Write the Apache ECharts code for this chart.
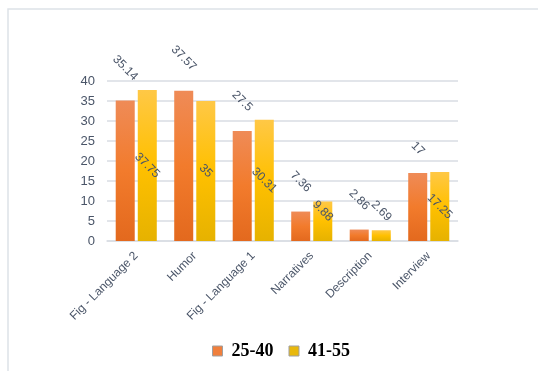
<!DOCTYPE html>
<html>
<head>
<meta charset="utf-8">
<script src="https://cdn.jsdelivr.net/npm/echarts@6/dist/echarts.min.js"></script>
<style>
  html, body { margin: 0; padding: 0; background: #fff; }
  #chart { width: 538px; height: 371px; }
</style>
</head>
<body>
<div id="chart"></div>
<script>
const categories = ["Fig - Language 2", "Humor", "Fig - Language 1", "Narratives", "Description", "Interview"];
const young = [35.14, 37.57, 27.5, 7.36, 2.86, 17];
const older = [37.75, 35, 30.31, 9.88, 2.69, 17.25];
const seriesNames = ["25-40", "41-55"];

const labelColor = "#4a5568";
const pxPerUnit = 4; // 160px plot for 0..40

const chart = echarts.init(document.getElementById("chart"));

// orange labels sit above the bar, pushed further for longer text
const youngData = young.map((v) => ({
  value: v,
  label: { distance: 19 + String(v).length * 2.7 },
}));
// yellow labels sit at the bar middle, but never lower than ~30px above axis
// (offset is in the rotated label frame, so split the lift over both axes)
const olderData = older.map((v) => {
  const half = (v * pxPerUnit) / 2;
  const lift = half < 30 ? (30 - half) / Math.SQRT2 : 0;
  return {
    value: v,
    label: { offset: [-lift, -lift] },
  };
});

const option = {
  animation: false,
  grid: { left: 107, right: 80, top: 81, bottom: 130 },
  graphic: [
    {
      type: "polyline",
      shape: { points: [[8, 371], [8, 9], [538, 9]] },
      style: { stroke: "#dde2e8", lineWidth: 1.5, fill: null },
    },
  ],
  legend: {
    left: 207,
    top: 337,
    itemWidth: 10,
    itemHeight: 10,
    itemGap: 15,
    icon: "rect",
    textStyle: {
      fontFamily: "Liberation Serif",
      fontWeight: "bold",
      fontSize: 18,
      color: "#000",
      padding: [0, 0, 0, 4],
    },
    data: [
      { name: seriesNames[0], itemStyle: { color: "#F07F3C", borderColor: "#a0a0a0", borderWidth: 1 } },
      { name: seriesNames[1], itemStyle: { color: "#E8B80C", borderColor: "#a0a0a0", borderWidth: 1 } },
    ],
  },
  xAxis: {
    type: "category",
    data: categories,
    axisLine: { lineStyle: { color: "#d9dde3", width: 1.5 } },
    axisTick: { show: false },
    axisLabel: {
      rotate: 45,
      interval: 0,
      margin: 13,
      fontFamily: "Liberation Sans",
      fontSize: 12,
      color: labelColor,
    },
  },
  yAxis: {
    type: "value",
    min: 0,
    max: 40,
    interval: 5,
    axisLine: { show: false },
    axisTick: { show: false },
    splitLine: { lineStyle: { color: "#d9dde3", width: 1.5 } },
    axisLabel: { fontFamily: "Liberation Sans", fontSize: 13, color: labelColor, margin: 12 },
  },
  series: [
    {
      name: seriesNames[0],
      type: "bar",
      barWidth: "32.5%",
      barGap: "16%",
      itemStyle: {
        color: new echarts.graphic.LinearGradient(0, 0, 0, 1, [
          { offset: 0, color: "#EF8B57" },
          { offset: 0.5, color: "#F27B2C" },
          { offset: 1, color: "#E3691E" },
        ]),
      },
      label: {
        show: true,
        position: "top",
        rotate: -45,
        align: "center",
        verticalAlign: "middle",
        fontFamily: "Liberation Sans",
        fontSize: 12,
        color: labelColor,
      },
      data: youngData,
    },
    {
      name: seriesNames[1],
      type: "bar",
      barWidth: "32.5%",
      itemStyle: {
        color: new echarts.graphic.LinearGradient(0, 0, 0, 1, [
          { offset: 0, color: "#FFC846" },
          { offset: 0.5, color: "#FFC000" },
          { offset: 1, color: "#E6B200" },
        ]),
      },
      label: {
        show: true,
        position: "inside",
        rotate: -45,
        align: "center",
        verticalAlign: "middle",
        fontFamily: "Liberation Sans",
        fontSize: 12,
        color: labelColor,
      },
      data: olderData,
    },
  ],
};

chart.setOption(option);
</script>
</body>
</html>
